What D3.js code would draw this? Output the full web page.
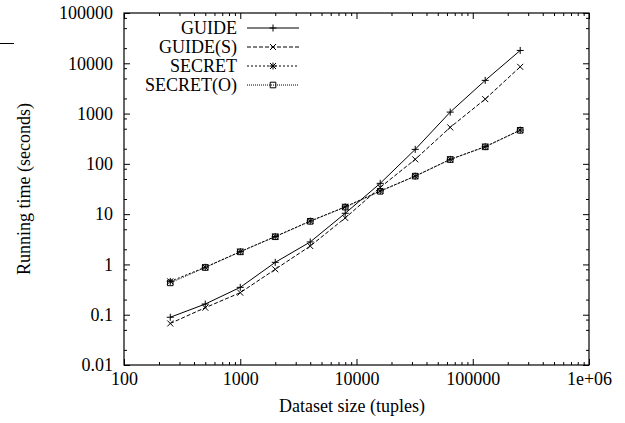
<!DOCTYPE html>
<html>
<head>
<meta charset="utf-8">
<script src="https://cdn.jsdelivr.net/npm/d3@7"></script>
<style>
  body { margin: 0; background: #fff; }
  svg { display: block; }
  text { font-family: 'Liberation Serif', serif; }
</style>
</head>
<body>
<svg id="chart" width="625" height="423" font-family="Liberation Serif"></svg>
<script>
// data
var sizes = [250, 500, 1000, 2000, 4000, 8000, 16000, 32000, 64000, 128000, 256000];
var guide   = [0.089, 0.163, 0.35, 1.1, 2.8, 10.4, 41, 194, 1070, 4570, 18000];
var guideS  = [0.067, 0.138, 0.274, 0.8, 2.32, 8.4, 34, 123, 532, 1940, 8500];
var secret  = [0.46, 0.88, 1.8, 3.6, 7.3, 14, 29, 57, 123, 220, 470];
var secretO = [0.43, 0.87, 1.78, 3.55, 7.2, 13.8, 28.5, 57, 122, 218, 465];
var seriesNames = ['GUIDE', 'GUIDE(S)', 'SECRET', 'SECRET(O)'];
var xTicks = [100, 1000, 10000, 100000, 1000000];
var xTickLabels = ['100', '1000', '10000', '100000', '1e+06'];
var yTicks = [0.01, 0.1, 1, 10, 100, 1000, 10000, 100000];
var yTickLabels = ['0.01', '0.1', '1', '10', '100', '1000', '10000', '100000'];

var frame = {l: 124, r: 589, t: 13, b: 365};
var fontSize = 18;
var serif = 'Liberation Serif';

var svg = d3.select('#chart');

var x = d3.scaleLog().domain([100, 1e6]).range([frame.l, frame.r]);
var y = d3.scaleLog().domain([0.01, 1e5]).range([frame.b, frame.t]);

// minor ticks: 2..9 on x, 2/5/8 on y (like the original)
var xMinor = [];
for (var d = 100; d < 1e6; d *= 10) {
  for (var k = 2; k <= 9; k++) xMinor.push(d * k);
}
var yMinor = [];
for (var d = 0.01; d < 1e5; d *= 10) {
  [2, 5, 8].forEach(k => yMinor.push(d * k));
}

function styleAxis(g) {
  g.attr('font-family', serif).attr('font-size', fontSize);
  g.select('.domain').remove();
  g.selectAll('line').attr('stroke', '#000').attr('stroke-width', 1);
  g.selectAll('text').attr('fill', '#000');
}

// bottom
svg.append('g')
  .attr('transform', 'translate(0,' + frame.b + ')')
  .call(d3.axisBottom(x).tickValues(xTicks).tickSizeInner(-6).tickSizeOuter(0).tickPadding(7)
    .tickFormat((d, i) => xTickLabels[i]))
  .call(styleAxis);
svg.append('g')
  .attr('transform', 'translate(0,' + frame.b + ')')
  .call(d3.axisBottom(x).tickValues(xMinor).tickSizeInner(-3).tickSizeOuter(0).tickFormat(''))
  .call(styleAxis);
// top mirror
svg.append('g')
  .attr('transform', 'translate(0,' + frame.t + ')')
  .call(d3.axisTop(x).tickValues(xTicks).tickSizeInner(-6).tickSizeOuter(0).tickFormat(''))
  .call(styleAxis);
svg.append('g')
  .attr('transform', 'translate(0,' + frame.t + ')')
  .call(d3.axisTop(x).tickValues(xMinor).tickSizeInner(-3).tickSizeOuter(0).tickFormat(''))
  .call(styleAxis);
// left
svg.append('g')
  .attr('transform', 'translate(' + frame.l + ',0)')
  .call(d3.axisLeft(y).tickValues(yTicks).tickSizeInner(-6).tickSizeOuter(0).tickPadding(11)
    .tickFormat((d, i) => yTickLabels[i]))
  .call(styleAxis);
svg.append('g')
  .attr('transform', 'translate(' + frame.l + ',0)')
  .call(d3.axisLeft(y).tickValues(yMinor).tickSizeInner(-3).tickSizeOuter(0).tickFormat(''))
  .call(styleAxis);
// right mirror
svg.append('g')
  .attr('transform', 'translate(' + frame.r + ',0)')
  .call(d3.axisRight(y).tickValues(yTicks).tickSizeInner(-6).tickSizeOuter(0).tickFormat(''))
  .call(styleAxis);
svg.append('g')
  .attr('transform', 'translate(' + frame.r + ',0)')
  .call(d3.axisRight(y).tickValues(yMinor).tickSizeInner(-3).tickSizeOuter(0).tickFormat(''))
  .call(styleAxis);

// frame
svg.append('rect')
  .attr('x', frame.l).attr('y', frame.t)
  .attr('width', frame.r - frame.l).attr('height', frame.b - frame.t)
  .attr('fill', 'none').attr('stroke', '#000').attr('stroke-width', 1.2);

// axis titles
svg.append('text')
  .text('Dataset size (tuples)')
  .attr('x', 352).attr('y', 412)
  .attr('text-anchor', 'middle')
  .attr('font-family', serif)
  .attr('font-size', fontSize);
svg.append('text')
  .text('Running time (seconds)')
  .attr('transform', 'translate(30,' + ((frame.t + frame.b) / 2) + ') rotate(-90)')
  .attr('text-anchor', 'middle')
  .attr('font-family', serif)
  .attr('font-size', fontSize);

// stray line at top-left of the original
svg.append('line')
  .attr('x1', 0).attr('x2', 14).attr('y1', 43.5).attr('y2', 43.5)
  .attr('stroke', '#000').attr('stroke-width', 1);

// markers
var plus = 'M-3.5,0H3.5M0,-3.5V3.5';
var cross = 'M-3,-3L3,3M-3,3L3,-3';
var square = 'M-2.8,-2.8H2.8V2.8H-2.8Z';
var star = plus + cross;

var series = [
  {name: seriesNames[0], values: guide,   dash: null,  marker: plus},
  {name: seriesNames[1], values: guideS,  dash: '4,2', marker: cross},
  {name: seriesNames[2], values: secret,  dash: '2,2', marker: star},
  {name: seriesNames[3], values: secretO, dash: '1,1', marker: square}
];

var line = d3.line()
  .x((d, i) => x(sizes[i]))
  .y(d => y(d));

series.forEach(s => {
  var g = svg.append('g');
  g.append('path')
    .datum(s.values)
    .attr('d', line)
    .attr('fill', 'none')
    .attr('stroke', '#000')
    .attr('stroke-width', 1)
    .attr('stroke-dasharray', s.dash);
  g.selectAll('path.pt')
    .data(s.values)
    .join('path')
    .attr('class', 'pt')
    .attr('transform', (d, i) => 'translate(' + x(sizes[i]) + ',' + y(d) + ')')
    .attr('d', s.marker)
    .attr('fill', 'none')
    .attr('stroke', '#000')
    .attr('stroke-width', 1);
});

// legend
var legend = svg.append('g');
series.forEach((s, i) => {
  var ly = 28 + i * 19;
  legend.append('text')
    .text(s.name)
    .attr('x', 237).attr('y', ly + 6)
    .attr('text-anchor', 'end')
    .attr('font-family', serif)
    .attr('font-size', fontSize);
  legend.append('line')
    .attr('x1', 247).attr('x2', 299)
    .attr('y1', ly).attr('y2', ly)
    .attr('stroke', '#000').attr('stroke-width', 1)
    .attr('stroke-dasharray', s.dash);
  legend.append('path')
    .attr('transform', 'translate(273,' + ly + ')')
    .attr('d', s.marker)
    .attr('fill', 'none')
    .attr('stroke', '#000')
    .attr('stroke-width', 1);
});
</script>
</body>
</html>
